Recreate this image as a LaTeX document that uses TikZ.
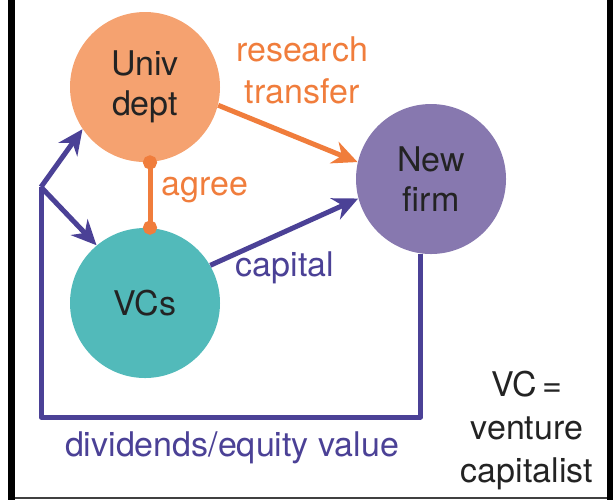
\documentclass[tikz,border=0pt]{standalone}
\usepackage{fontspec}
\setmainfont{TeX Gyre Heros}
\definecolor{univorange}{RGB}{245, 162, 112}
\definecolor{linkorange}{RGB}{240, 125, 60}
\definecolor{firmpurple}{RGB}{135, 120, 175}
\definecolor{vcteal}{RGB}{82, 186, 186}
\definecolor{flowblue}{RGB}{75, 65, 150}
\definecolor{nodetext}{RGB}{35, 35, 35}
\usetikzlibrary{arrows.meta, calc}

\begin{document}
\begin{tikzpicture}[x=0.5pt, y=-0.5pt,
    party/.style={circle, inner sep=0pt, minimum size=75pt, align=center, text=nodetext, font=\fontsize{17}{20}\selectfont},
    flowtext/.style={align=center, inner sep=0pt, font=\fontsize{17}{21}\selectfont},
    flow/.style={line width=2.5pt, line join=round, -{Stealth[length=12.5pt, width=11.5pt, inset=4pt]}}
  ]
  \useasboundingbox (0, 0) rectangle (613, 500);
  % frame
  \fill[black] (8, 0) rectangle (15, 500);
  \fill[black] (607, 0) rectangle (613, 500);
  \draw[black!75, line width=1pt] (15, 498) -- (607, 498);

  % parties
  \node[party, fill=univorange] (univ) at (145, 87) {Univ\\dept};
  \node[party, fill=vcteal] (vcs) at (145, 303) {VCs};
  \node[party, fill=firmpurple] (firm) at (431, 179) {New\\firm};

  % agreement
  \draw[line width=2.5pt, linkorange, {Circle[length=7pt]}-{Circle[length=7pt]}, shorten <=-3.5pt, shorten >=-3.5pt]
    ([xshift=2.5pt]univ.south) -- ([xshift=2.5pt]vcs.north);
  \node[flowtext, text=linkorange] (agree) at (205, 190) {agree};

  % research transfer
  \draw[flow, linkorange] (univ.-14) -- (firm.167);
  \node[flowtext, text=linkorange] (research) at (302, 70) {research\\transfer};

  % capital
  \draw[flow, flowblue] (vcs.30) -- (firm.195);
  \node[flowtext, text=flowblue] (capital) at (285, 268) {capital};

  % dividends back to univ and VCs
  \coordinate (fork) at (41, 187);
  \coordinate (bend) at (41, 417);
  \draw[flowblue, line width=2.5pt, line join=round] (firm.262) |- (bend) -- (fork);
  \draw[flow, flowblue] (fork) -- (univ.214);
  \draw[flow, flowblue] (fork) -- (vcs.130);
  \node[flowtext, text=flowblue] (dividends) at (232, 448) {dividends/equity value};

  \node[flowtext, text=nodetext, font=\fontsize{17}{21.5}\selectfont] (note) at (527, 430) {VC\,=\\venture\\capitalist};
\end{tikzpicture}
\end{document}
